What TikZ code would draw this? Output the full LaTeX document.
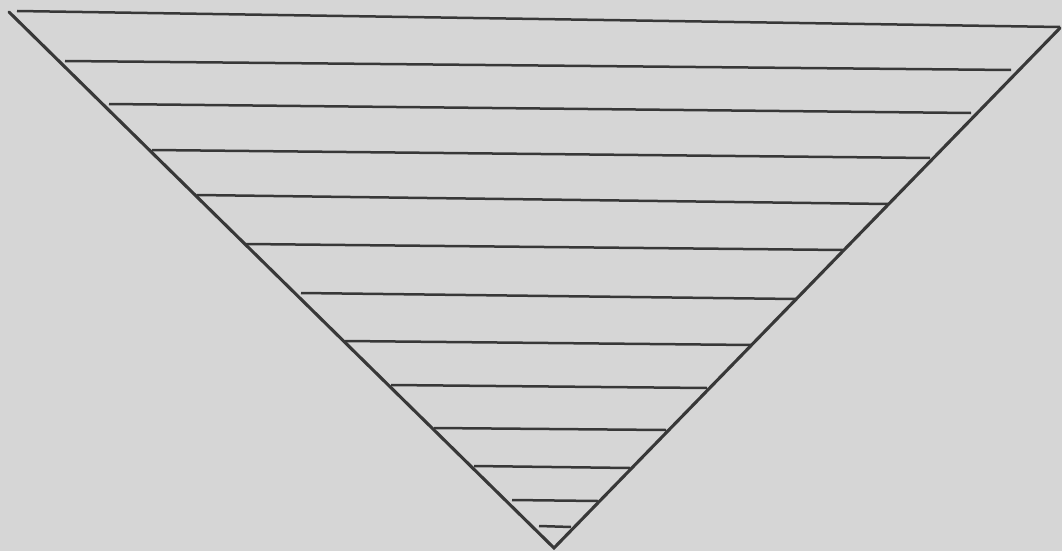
\documentclass[tikz,border=0pt]{standalone}
\definecolor{paper}{HTML}{D6D6D6}
\definecolor{ink}{HTML}{383838}
\begin{document}
\begin{tikzpicture}[x=1pt,y=-1pt,
  edge/.style={draw=ink,line width=3.1pt,line cap=round,line join=miter},
  rung/.style={draw=ink,line width=2.5pt}]
\fill[paper] (0,0) rectangle (1062,551);
\useasboundingbox (0,0) rectangle (1062,551);
\coordinate (L) at (9,12);
\coordinate (B) at (554,548);
\coordinate (R) at (1060,28);
\draw[edge] (L) -- (B) -- (R);
\foreach \xa/\ya/\xb/\yb in {17/11/1060/27, 65/61/1011/70, 109/104/971/113, 152/150/930/158,
  197/195/888/204, 246/244/843/250, 301/293/796/299, 345/341/752/345, 391/385/707/388,
  434/428/666/430, 474/466/630/468, 512/500/598/501, 539/526/571/527}
  \draw[rung] (\xa,\ya) -- (\xb,\yb);
\end{tikzpicture}
\end{document}
